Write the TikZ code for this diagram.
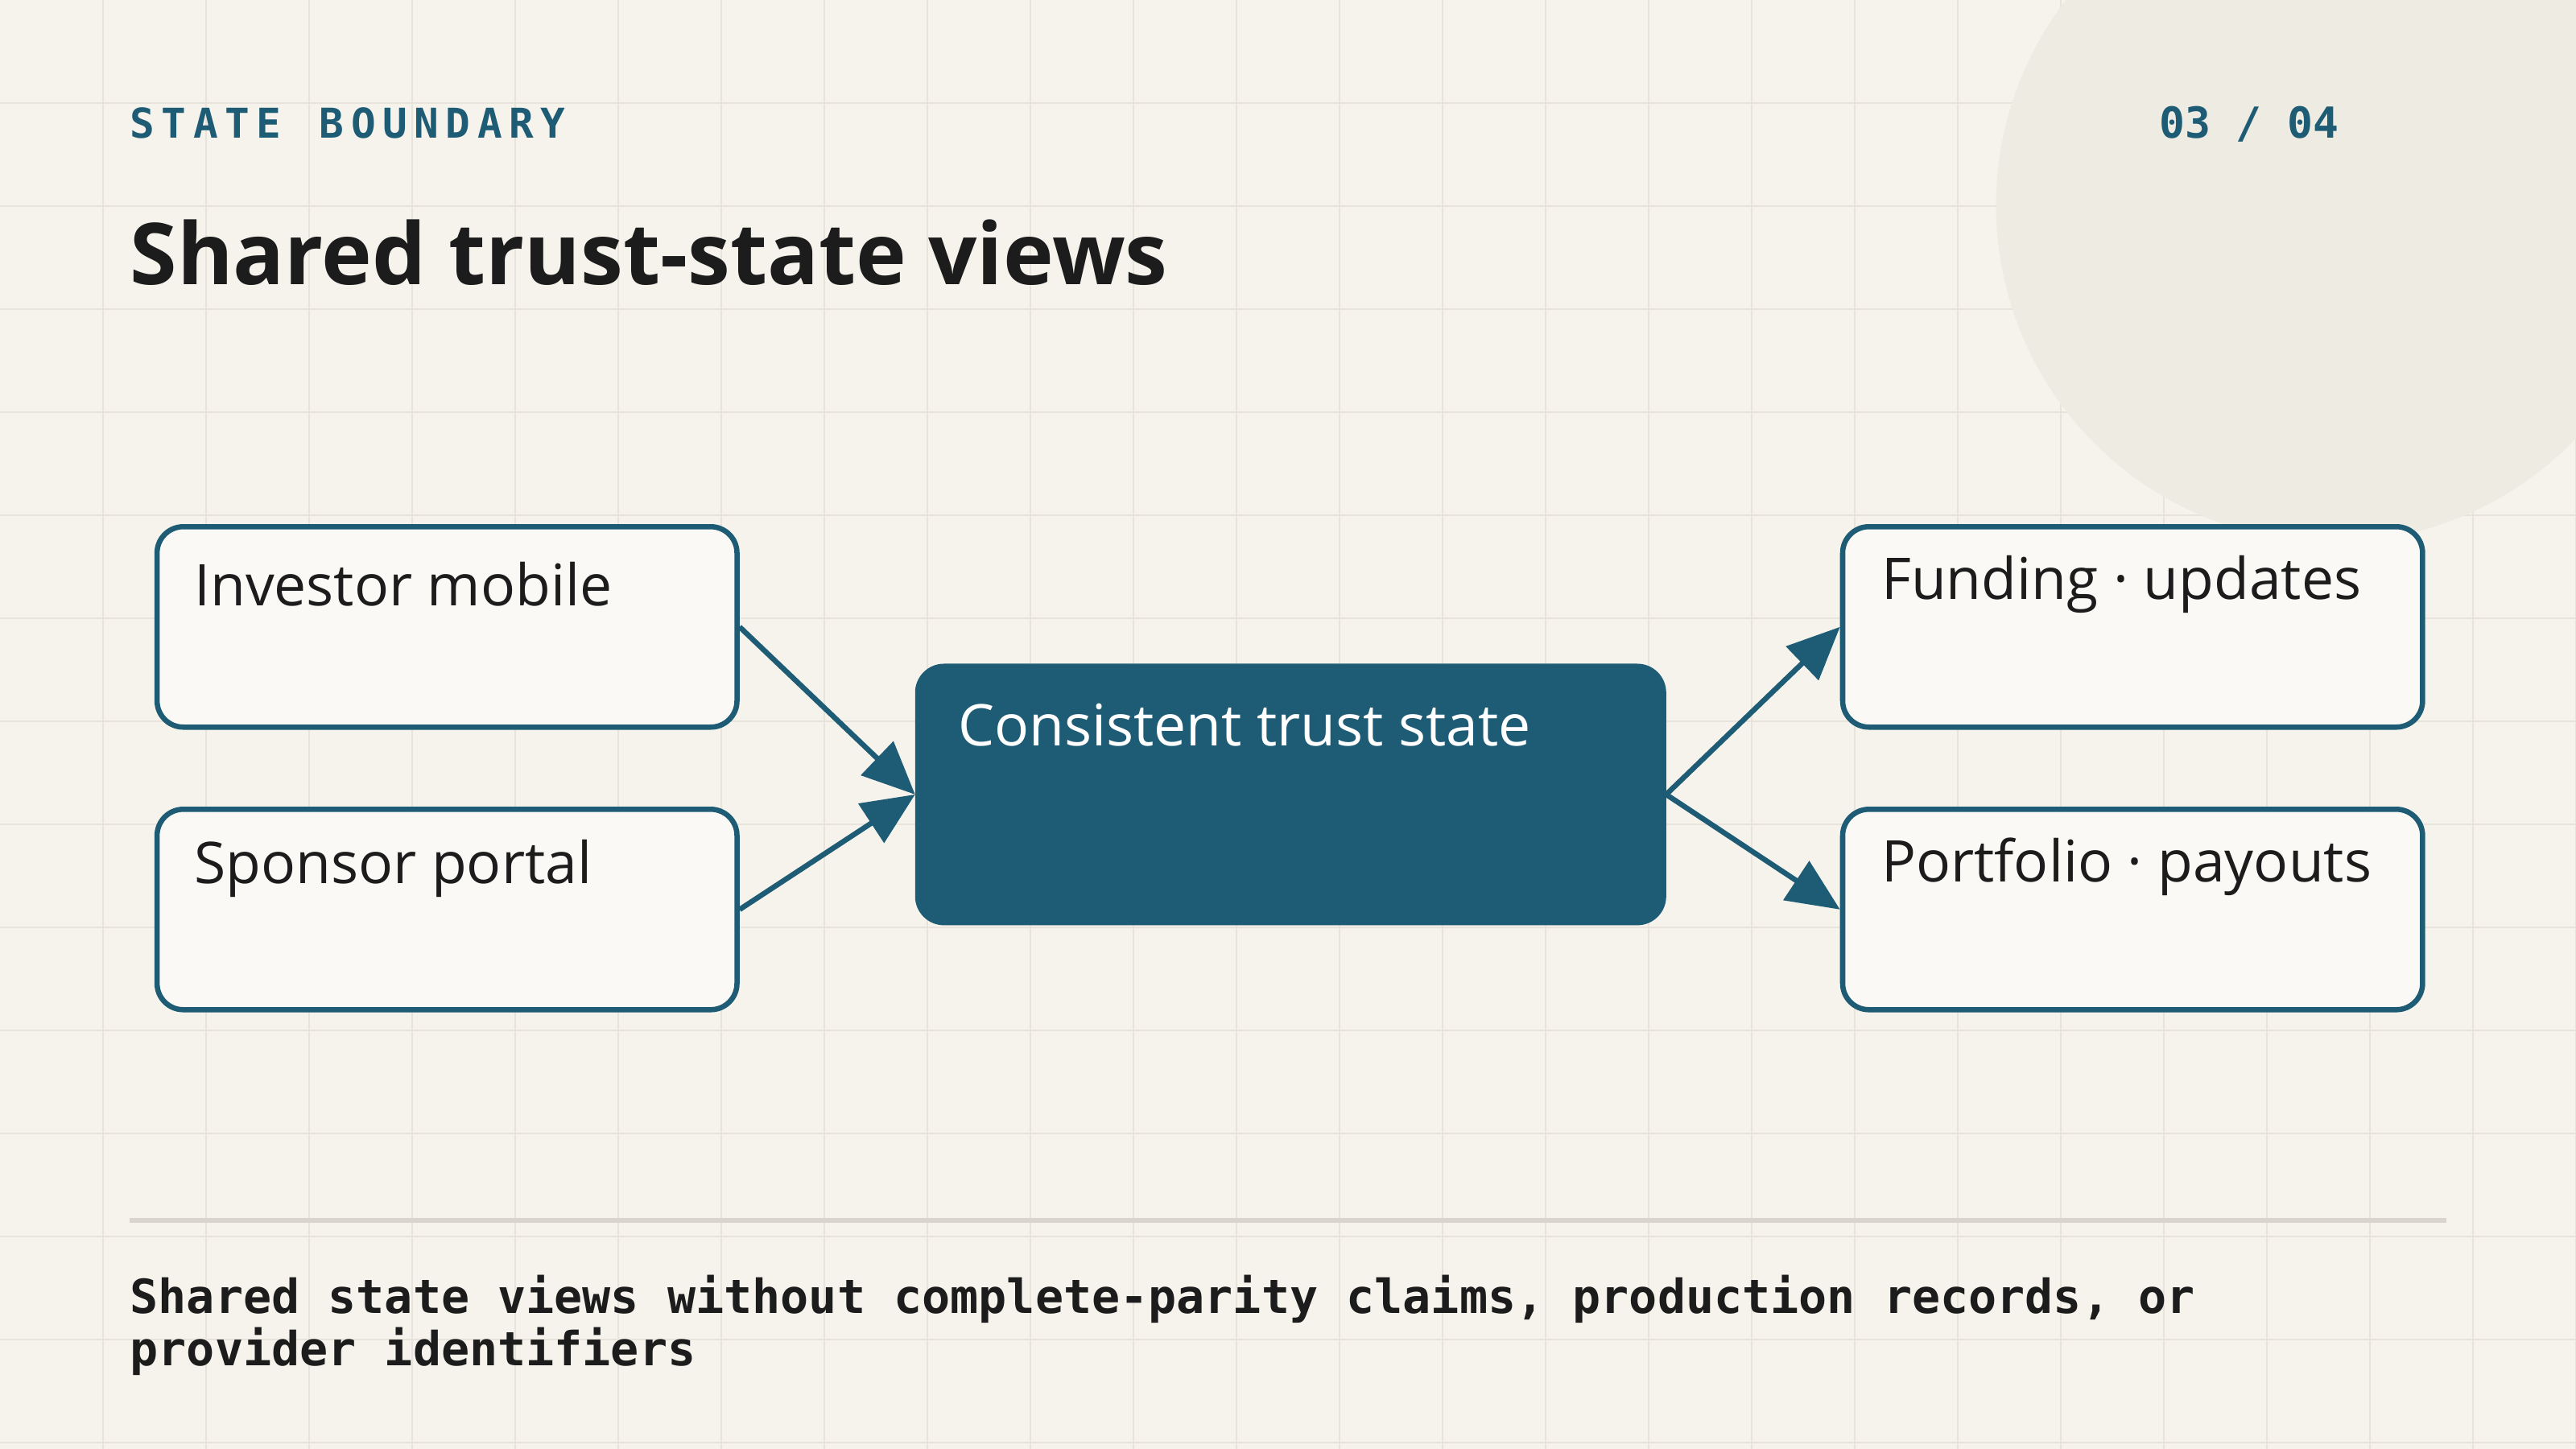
\documentclass[tikz,border=0pt]{standalone}
\usepackage{fontspec}
\setmainfont{Open Sans}
\setmonofont{DejaVu Sans Mono}
\usetikzlibrary{arrows.meta}
\definecolor{bg}{HTML}{F6F3EC}
\definecolor{teal}{HTML}{1D5C74}
\definecolor{gridc}{HTML}{E8E4DC}
\definecolor{circ}{HTML}{EEEBE3}
\definecolor{boxf}{HTML}{FAF9F5}
\definecolor{ink}{HTML}{1C1C1C}
\definecolor{rule}{HTML}{D9D5CD}
\begin{document}
\begin{tikzpicture}[x=1pt,y=-1pt,
  box/.style={draw=teal,line width=3.2pt,fill=boxf,rounded corners=16pt,minimum width=353pt,minimum height=122pt,anchor=north west},
  lbl/.style={font=\fontsize{35}{40}\selectfont,text=ink,anchor=north west,inner sep=0pt},
  arr/.style={draw=teal,line width=3.2pt,-{Triangle[length=32pt,width=28pt]}}]
\fill[bg] (0,0) rectangle (1568,882);
\useasboundingbox (0,0) rectangle (1568,882);
\foreach \i in {1,...,25}{\draw[gridc,line width=1pt] (\i*62.72,0) -- (\i*62.72,882);}
\foreach \i in {1,...,14}{\draw[gridc,line width=1pt] (0,\i*62.72) -- (1568,\i*62.72);}
\fill[circ] (1420,125) circle (205);
\node[anchor=base west,inner sep=0pt,text=teal,font=\ttfamily\bfseries\fontsize{25}{28}\selectfont] (kick) at (79,84) {S\,T\,A\,T\,E\, \,B\,O\,U\,N\,D\,A\,R\,Y};
\node[anchor=base east,inner sep=0pt,text=teal,font=\ttfamily\bfseries\fontsize{26}{28}\selectfont] (page) at (1424,84) {03 / 04};
\node[anchor=base west,inner sep=0pt,text=ink,font=\bfseries\fontsize{52}{60}\selectfont] (title) at (79,173) {Shared trust-state views};
\node[box] (inv) at (94,319) {};
\node[box] (spo) at (94,491) {};
\node[box,fill=teal,draw=teal,minimum width=454pt,minimum height=156pt] (ctr) at (557,404) {};
\node[box] (fun) at (1120,319) {};
\node[box] (por) at (1120,491) {};
\node[lbl] at (118,342) {Investor mobile};
\node[lbl] at (118,511) {Sponsor portal};
\node[lbl,text=white] at (583,428) {Consistent trust state};
\node[lbl] at (1145,338) {Funding · updates};
\node[lbl] at (1145,510) {Portfolio · payouts};
\draw[arr] (inv.east) -- (ctr.west);
\draw[arr] (spo.east) -- (ctr.west);
\draw[arr] (ctr.east) -- (fun.west);
\draw[arr] (ctr.east) -- (por.west);
\draw[rule,line width=3pt] (79,743) -- (1489,743);
\node[anchor=north west,align=left,inner sep=0pt,text=ink,font=\ttfamily\bfseries\fontsize{28.6}{32}\selectfont] (foot) at (79,776) {Shared state views without complete-parity claims, production records, or\\provider identifiers};
\end{tikzpicture}
\end{document}
